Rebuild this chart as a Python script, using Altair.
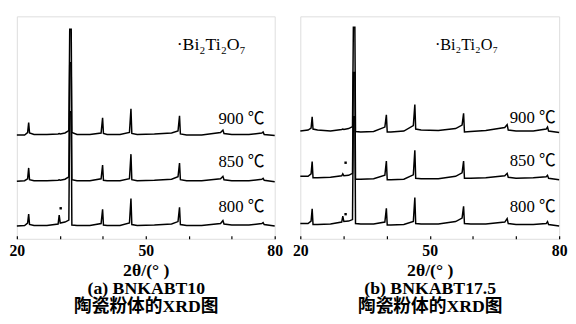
import altair as alt
import pandas as pd

# 2-theta vertices (degrees) shared by all traces
two_theta = [20.0, 21.8, 22.5, 22.75, 22.95, 24.0, 27.0, 29.6, 29.85, 30.1,
             31.2, 32.1, 32.3, 32.65, 32.8, 34.0, 37.0, 39.6, 39.95, 40.15,
             41.0, 44.0, 46.2, 46.55, 46.75, 48.0, 52.0, 56.0, 57.5, 57.85,
             58.05, 59.5, 63.0, 67.4, 67.95, 68.2, 70.0, 74.0, 77.0, 77.3,
             77.55, 80.0]

# (a) BNKABT10 intensities (a.u., stacked)
a_900 = [105.5, 105.5, 108, 118, 107.5, 106, 106, 106.5, 107, 106.5,
         107.5, 110, 213, 213, 108, 106, 106, 107.5, 123, 107,
         106, 106, 108, 132, 107, 106, 106.5, 107.5, 109.5, 125,
         106.5, 105.5, 105.5, 108, 110.5, 107, 106, 106, 107.5, 108.5,
         106, 105]
a_850 = [58.5, 59, 61, 72, 60, 59, 59, 59.5, 60, 59.5,
         60.5, 63, 179, 179, 60, 59, 59, 61, 75, 59.5,
         59, 59, 61, 86, 60, 59, 59.5, 60.5, 63, 77,
         60, 59, 59, 61, 63.5, 60, 59, 59, 60.5, 61.5,
         59.5, 58]
a_800 = [13, 13.5, 16, 25, 14.5, 13.5, 13.5, 15, 24, 16,
         17, 19, 129, 129, 14, 13.5, 13.5, 15.5, 30, 14,
         13.5, 13.5, 16, 41, 14.5, 13.5, 14, 15, 17.5, 32,
         14.5, 13.5, 13.5, 15.5, 18.5, 15, 14, 14, 15.5, 16.5,
         14.5, 13]

# (b) BNKABT17.5 intensities (a.u., stacked)
b_900 = [109.5, 110.5, 112.5, 124, 111.5, 110.5, 109.5, 111, 111.5, 111,
         112, 114, 215, 215, 109, 108.5, 109, 113.5, 126, 108.5,
         108.5, 109.5, 115, 136.5, 111.5, 110.5, 110, 112, 115.5, 127.5,
         108.5, 109, 110, 113, 116, 110.5, 109.5, 109.5, 111.5, 113.5,
         109.5, 108]
b_850 = [63.5, 63.5, 66, 78.5, 62, 62, 62.5, 64, 66, 64,
         64.5, 66.5, 169, 169, 60.5, 60.5, 61, 64.5, 79, 60,
         60, 60.5, 65, 90, 61.5, 61, 61, 63.5, 67, 79,
         61.5, 61.5, 62, 64, 66.5, 62.5, 61.5, 62, 63, 64.5,
         61.5, 60]
b_800 = [15.5, 15.5, 18, 30.5, 14.5, 14.5, 15, 17, 23, 17.5,
         18, 19.5, 124, 124, 15.5, 15, 15, 17, 31, 14,
         14, 14.5, 17.5, 42, 15.5, 15, 15, 17.5, 21, 33,
         15.5, 15, 15, 17, 20.5, 15.5, 14.5, 14.5, 15.5, 17.5,
         14.5, 13]

temps = ["900 ℃", "850 ℃", "800 ℃"]

# Bi2Ti2O7 markers (2theta, intensity)
a_dot_x = [30.2]
a_dot_y = [31]
b_dot_x = [30.5, 30.5]
b_dot_y = [77.3, 25]

tick_values = [20, 30, 40, 50, 60, 70, 80]
a_title = ["2θ/(°  )", "(a)  BNKABT10", "陶瓷粉体的XRD图"]
b_title = ["2θ/(°  )", "(b)  BNKABT17.5", "陶瓷粉体的XRD图"]

FONT = "'Liberation Serif', 'Noto Sans CJK SC', serif"


def panel(traces, label_x, label_y, legend_x, legend_size, dot_x, dot_y, title, width):
    rows = []
    for name, vals in zip(temps, traces):
        for i, (t, v) in enumerate(zip(two_theta, vals)):
            rows.append({"two_theta": t, "intensity": v, "trace": name, "order": i})
    df = pd.DataFrame(rows)

    x = alt.X("two_theta:Q",
              scale=alt.Scale(domain=[20, 80], nice=False, zero=False),
              axis=alt.Axis(values=tick_values,
                            labelExpr="(datum.value == 20 || datum.value == 50 || datum.value == 80) ? datum.label : ''",
                            labelOverlap=False, labelFlush=False, grid=False, domain=False,
                            offset=-3, tickSize=3, tickColor="black", tickWidth=1.2,
                            labelFont=FONT, labelFontSize=16, labelFontWeight="bold",
                            labelColor="black", labelPadding=4,
                            title=title, titleFont=FONT, titleFontSize=18,
                            titleFontWeight="bold", titleColor="black",
                            titleLineHeight=18.5, titlePadding=3))
    y = alt.Y("intensity:Q", scale=alt.Scale(domain=[0, 226], nice=False, zero=False), axis=None)

    lines = alt.Chart(df).mark_line(color="black", strokeWidth=1.5).encode(
        x=x, y=y, detail="trace:N", order="order:Q")

    lab_df = pd.DataFrame({"two_theta": [label_x] * 3, "intensity": label_y, "label": temps})
    labels = alt.Chart(lab_df).mark_text(align="right", baseline="middle", font=FONT,
                                         fontSize=17, color="black").encode(
        x="two_theta:Q", y="intensity:Q", text="label:N")

    leg_df = pd.DataFrame({"two_theta": [legend_x], "intensity": [197], "label": ["·Bi₂Ti₂O₇"]})
    legend = alt.Chart(leg_df).mark_text(align="left", baseline="middle", font=FONT,
                                         fontSize=legend_size, color="black").encode(
        x="two_theta:Q", y="intensity:Q", text="label:N")

    dot_df = pd.DataFrame({"two_theta": dot_x, "intensity": dot_y})
    dots = alt.Chart(dot_df).mark_square(color="black", size=6, opacity=1).encode(
        x="two_theta:Q", y="intensity:Q")

    return alt.layer(lines, dots, labels, legend).properties(width=width, height=226)


left = panel([a_900, a_850, a_800], 77.6, [121.5, 77.5, 32], 57.2, 18,
             a_dot_x, a_dot_y, a_title, 262)
right = panel([b_900, b_850, b_800], 79.2, [123, 78.5, 32], 51.2, 16.5,
              b_dot_x, b_dot_y, b_title, 263)

chart = alt.hconcat(left, right, spacing=26, bounds="flush").properties(
    padding={"left": 0, "top": 5, "right": 0, "bottom": 0}
).configure_view(stroke="black", strokeWidth=1.5).configure(background="white")

chart.save("out.html", embed_options={"renderer": "svg", "actions": False})
